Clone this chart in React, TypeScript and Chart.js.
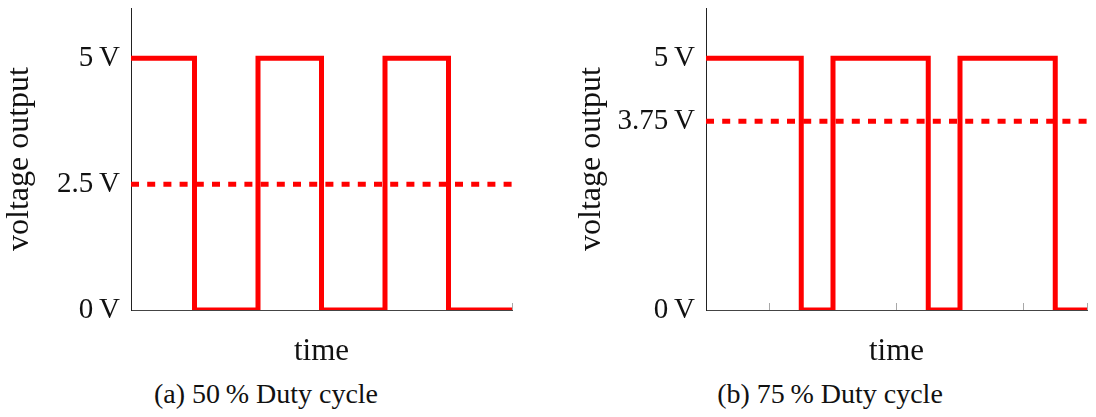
import React, { useEffect, useRef } from 'react';
import { Chart, registerables } from 'chart.js';

Chart.register(...registerables);

const FONT = '"Liberation Serif", "DejaVu Serif", serif';
const TEXT_COLOR = '#111111';
const RED = '#ff0000';

// time axis
const timeMin = 0;
const timeMax = 6;
const timeStep = 1;
const voltMin = 0;
const voltMax = 6;

// (a) 50 % duty cycle square wave
const halfTimes = [0, 1, 1, 2, 2, 3, 3, 4, 4, 5, 5, 6];
const halfVolts = [5, 5, 0, 0, 5, 5, 0, 0, 5, 5, 0, 0];
const halfAverage = 2.5;
const halfTicks = [0, 2.5, 5];

// (b) 75 % duty cycle square wave
const threeQTimes = [0, 1.5, 1.5, 2, 2, 3.5, 3.5, 4, 4, 5.5, 5.5, 6];
const threeQVolts = [5, 5, 0, 0, 5, 5, 0, 0, 5, 5, 0, 0];
const threeQAverage = 3.75;
const threeQTicks = [0, 3.75, 5];

const xTitle = 'time';
const yTitle = 'voltage output';
const captionA = '(a) 50\u2009% Duty cycle';
const captionB = '(b) 75\u2009% Duty cycle';

type WaveProps = {
  times: number[];
  volts: number[];
  avg: number;
  yTicks: number[];
  left: number;
  width: number;
  axisWidth: number;
  rightPad: number;
};

function WaveChart({ times, volts, avg, yTicks, left, width, axisWidth, rightPad }: WaveProps) {
  const ref = useRef<HTMLCanvasElement>(null);
  useEffect(() => {
    if (!ref.current) return;
    const chart = new Chart(ref.current, {
      type: 'line',
      data: {
        datasets: [
          {
            data: times.map((t, i) => ({ x: t, y: volts[i] })),
            borderColor: RED,
            borderWidth: 5,
            pointRadius: 0,
            borderJoinStyle: 'miter',
            borderCapStyle: 'butt',
            tension: 0,
            fill: false,
            clip: 0,
          } as any,
          {
            data: [
              { x: timeMin, y: avg },
              { x: timeMax, y: avg },
            ],
            borderColor: RED,
            borderWidth: 5,
            borderDash: [8, 8.2],
            borderCapStyle: 'butt',
            pointRadius: 0,
            fill: false,
            clip: 0,
          } as any,
        ],
      },
      options: {
        animation: false,
        responsive: false,
        maintainAspectRatio: false,
        layout: { padding: { top: 8, right: rightPad, left: 0, bottom: 0 } },
        plugins: {
          legend: { display: false },
          tooltip: { enabled: false },
          title: { display: false },
        },
        scales: {
          x: {
            type: 'linear',
            min: timeMin,
            max: timeMax,
            ticks: { display: false, stepSize: timeStep },
            grid: {
              display: true,
              drawOnChartArea: false,
              drawTicks: true,
              tickLength: -7,
              color: '#a8a8a8',
              lineWidth: 1,
            },
            border: { display: true, color: '#444444', width: 1 },
            title: {
              display: true,
              text: xTitle,
              color: TEXT_COLOR,
              font: { family: FONT, size: 31 },
              padding: { top: 0, bottom: 5 },
            },
            afterFit: (s: any) => {
              s.height = 65;
              s.paddingLeft = 0;
              s.paddingRight = 0;
            },
          },
          y: {
            type: 'linear',
            min: voltMin,
            max: voltMax,
            afterBuildTicks: (s: any) => {
              s.ticks = yTicks.map((v) => ({ value: v }));
            },
            ticks: {
              autoSkip: false,
              color: TEXT_COLOR,
              font: { family: FONT, size: 29 },
              padding: 11,
              callback: (v: any) => `${v}\u2009V`,
            },
            grid: { display: false, drawTicks: false },
            border: { display: true, color: '#222222', width: 1 },
            title: {
              display: true,
              text: yTitle,
              color: TEXT_COLOR,
              font: { family: FONT, size: 32 },
              padding: { top: 0, bottom: 0 },
            },
            afterFit: (s: any) => {
              s.width = axisWidth;
              s.paddingTop = 0;
              s.paddingBottom = 0;
            },
          },
        },
      } as any,
    });
    return () => chart.destroy();
  }, []);
  return (
    <canvas
      ref={ref}
      width={width}
      height={375}
      style={{ position: 'absolute', left, top: 0, width, height: 375 }}
    />
  );
}

const captionStyle: React.CSSProperties = {
  position: 'absolute',
  top: 377,
  width: 400,
  textAlign: 'center',
  fontFamily: FONT,
  fontSize: 28,
  lineHeight: '34px',
  color: TEXT_COLOR,
  whiteSpace: 'nowrap',
};

export default function App() {
  return (
    <div
      style={{
        position: 'absolute',
        left: 0,
        top: 0,
        width: 1096,
        height: 417,
        background: '#ffffff',
        overflow: 'hidden',
      }}
    >
      <WaveChart
        times={halfTimes}
        volts={halfVolts}
        avg={halfAverage}
        yTicks={halfTicks}
        left={0}
        width={548}
        axisWidth={131}
        rightPad={36}
      />
      <WaveChart
        times={threeQTimes}
        volts={threeQVolts}
        avg={threeQAverage}
        yTicks={threeQTicks}
        left={572}
        width={524}
        axisWidth={134}
        rightPad={9}
      />
      <div style={{ ...captionStyle, left: 266 - 200 }}>{captionA}</div>
      <div style={{ ...captionStyle, left: 830 - 200 }}>{captionB}</div>
    </div>
  );
}
